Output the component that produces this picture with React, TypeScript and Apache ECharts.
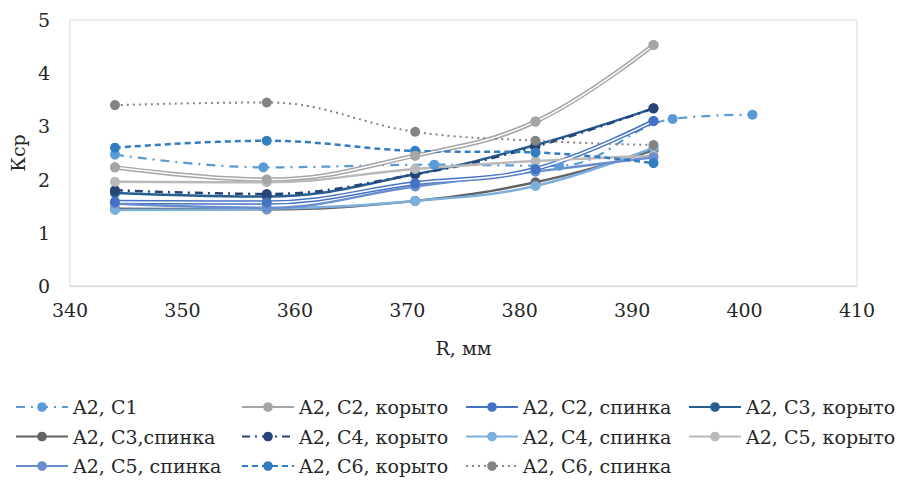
import React, { useEffect, useRef } from "react";
import * as echarts from "echarts";

const xMain = [344, 357.5, 370.7, 381.4, 391.9];
const xC1 = [344, 357.2, 372.4, 383.5, 393.6, 400.7];

const yC1 = [2.47, 2.23, 2.28, 2.26, 3.14, 3.22];
const yC2k = [2.23, 2.0, 2.45, 3.09, 4.53];
const yC2s = [1.58, 1.57, 1.93, 2.2, 3.1];
const yC3k = [1.75, 1.68, 2.1, 2.65, 3.34];
const yC3s = [1.45, 1.44, 1.6, 1.95, 2.55];
const yC4k = [1.8, 1.73, 2.1, 2.62, 3.34];
const yC4s = [1.43, 1.45, 1.6, 1.88, 2.6];
const yC5k = [1.96, 1.95, 2.2, 2.35, 2.45];
const yC5s = [1.55, 1.47, 1.87, 2.15, 2.42];
const yC6k = [2.6, 2.73, 2.54, 2.51, 2.31];
const yC6s = [3.4, 3.45, 2.9, 2.73, 2.65];

const names = [
  "A2, C1",
  "A2, C2, корыто",
  "A2, C2, спинка",
  "A2, C3, корыто",
  "A2, C3,спинка",
  "A2, C4, корыто",
  "A2, C4, спинка",
  "A2, C5, корыто",
  "A2, C5, спинка",
  "A2, C6, корыто",
  "A2, C6, спинка",
];

const FONT = "DejaVu Serif";
const FS = 19;
const TXT = "#262626";

const pts = (xs: number[], ys: number[]) => ys.map((y, i) => [xs[i], y]);

function lineSeries(name: string, xs: number[], ys: number[], color: string, width: number, type: any, z = 2) {
  return {
    type: "line",
    name,
    data: pts(xs, ys),
    smooth: 0.4,
    symbol: "circle",
    symbolSize: 10,
    z,
    itemStyle: { color },
    lineStyle: { color, width, type, cap: "butt" },
  };
}

function doubleSeries(name: string, xs: number[], ys: number[], color: string) {
  return [
    lineSeries(name, xs, ys, color, 4.5, "solid", 2),
    {
      type: "line",
      name: name + " _inner",
      data: pts(xs, ys),
      smooth: 0.4,
      symbol: "none",
      silent: true,
      z: 3,
      lineStyle: { color: "#ffffff", width: 1.5 },
    },
    {
      type: "line",
      name: name + " _pts",
      data: pts(xs, ys),
      symbol: "circle",
      symbolSize: 10,
      silent: true,
      z: 4,
      itemStyle: { color },
      lineStyle: { width: 0, opacity: 0 },
    },
  ];
}

export default function App() {
  const ref = useRef<HTMLDivElement>(null);
  useEffect(() => {
    if (!ref.current) return;
    const chart = echarts.init(ref.current, null, { renderer: "svg" });
    const legendBase = {
      orient: "vertical",
      top: 397,
      padding: 0,
      itemWidth: 52,
      itemHeight: 12,
      itemGap: 9.5,
      textStyle: { fontFamily: FONT, fontSize: FS, color: TXT, lineHeight: 20 },
    };
    chart.setOption({
      animation: false,
      backgroundColor: "#ffffff",
      textStyle: { fontFamily: FONT },
      grid: {
        left: 70,
        right: 47,
        top: 20,
        bottom: 196,
        outerBoundsMode: "none",
        containLabel: false,
        show: true,
        borderColor: "#d9d9d9",
        borderWidth: 1,
      },
      xAxis: {
        type: "value",
        min: 340,
        max: 410,
        interval: 10,
        name: "R, мм",
        nameLocation: "middle",
        nameGap: 52,
        nameTextStyle: { fontFamily: FONT, fontSize: FS, color: TXT },
        axisLine: { show: true, lineStyle: { color: "#d9d9d9" } },
        axisTick: { show: false },
        splitLine: { show: false },
        axisLabel: { fontFamily: FONT, fontSize: FS, color: TXT, margin: 14 },
      },
      yAxis: {
        type: "value",
        min: 0,
        max: 5,
        interval: 1,
        name: "Кср",
        nameLocation: "middle",
        nameRotate: 90,
        nameGap: 31,
        nameTextStyle: { fontFamily: FONT, fontSize: FS, color: TXT },
        axisLine: { show: false },
        axisTick: { show: false },
        splitLine: { show: false },
        axisLabel: { fontFamily: FONT, fontSize: FS, color: TXT, margin: 20 },
      },
      legend: [
        { ...legendBase, left: 15, data: [names[0], names[4], names[8]] },
        { ...legendBase, left: 241, data: [names[1], names[5], names[9]] },
        { ...legendBase, left: 465, data: [names[2], names[6], names[10]] },
        { ...legendBase, left: 688, data: [names[3], names[7]] },
      ],
      series: [
        lineSeries(names[0], xC1, yC1, "#5B9BD5", 2.25, [9, 6, 2, 6]),
        ...doubleSeries(names[1], xMain, yC2k, "#A5A5A5"),
        ...doubleSeries(names[2], xMain, yC2s, "#4472C4"),
        lineSeries(names[3], xMain, yC3k, "#255E91", 2.5, "solid"),
        lineSeries(names[4], xMain, yC3s, "#636363", 2.5, "solid"),
        lineSeries(names[5], xMain, yC4k, "#264478", 2.5, [8, 5, 2, 5]),
        lineSeries(names[6], xMain, yC4s, "#7CAFDD", 2.5, "solid"),
        lineSeries(names[7], xMain, yC5k, "#B9B9B9", 2.5, "solid"),
        lineSeries(names[8], xMain, yC5s, "#698ED0", 2.5, "solid"),
        lineSeries(names[9], xMain, yC6k, "#327DC2", 2.5, [6, 4]),
        lineSeries(names[10], xMain, yC6s, "#848484", 2, [2, 4]),
      ],
    });
    return () => chart.dispose();
  }, []);
  return <div ref={ref} style={{ position: "fixed", left: 0, top: 0, width: 904, height: 482 }} />;
}
